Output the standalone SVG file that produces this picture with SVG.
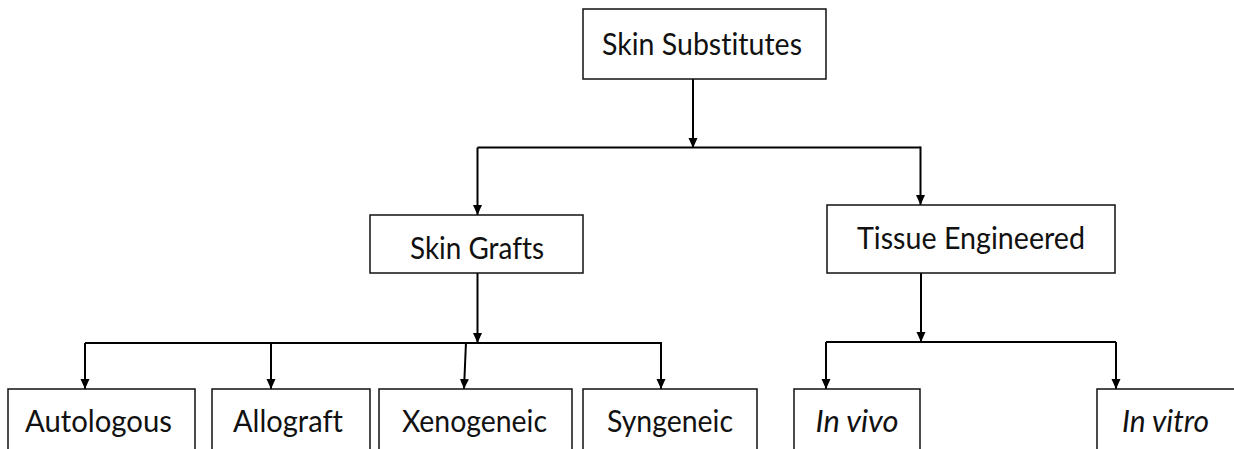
<svg xmlns="http://www.w3.org/2000/svg" width="1234" height="449" viewBox="0 0 1234 449">
<style>
.box{fill:#fff;stroke:#111;stroke-width:1.5}
.lbl{font-family:Lato,"Liberation Sans",sans-serif;font-size:31px;fill:#111;text-anchor:middle;font-variant-ligatures:none;font-feature-settings:"liga" 0}
.it{font-style:italic}
.c{fill:none;stroke:#000;stroke-width:2}
</style>
<defs>
<marker id="ah" markerUnits="userSpaceOnUse" markerWidth="10" markerHeight="12" refX="10" refY="5" orient="auto" viewBox="0 0 10 10">
<path d="M0,0.5 L10,5 L0,9.5 Z" fill="#000"/>
</marker>
</defs>
<rect width="1234" height="449" fill="#fff"/>
<g id="connectors">
<path class="c" d="M693,79 V148" marker-end="url(#ah)"/>
<path class="c" d="M477.5,147.5 H920.5"/>
<path class="c" d="M477.5,147.5 V215" marker-end="url(#ah)"/>
<path class="c" d="M920.5,146.5 V205" marker-end="url(#ah)"/>
<path class="c" d="M477.5,273 V343" marker-end="url(#ah)"/>
<path class="c" d="M85,343 H661"/>
<path class="c" d="M85,343 V389" marker-end="url(#ah)"/>
<path class="c" d="M271,342 V389" marker-end="url(#ah)"/>
<path class="c" d="M466,342 L464,389" marker-end="url(#ah)"/>
<path class="c" d="M661,342 V389" marker-end="url(#ah)"/>
<path class="c" d="M921,273 V342" marker-end="url(#ah)"/>
<path class="c" d="M826,342 H1116"/>
<path class="c" d="M826,342 V389" marker-end="url(#ah)"/>
<path class="c" d="M1116,342 V389" marker-end="url(#ah)"/>
</g>
<g id="skin-substitutes">
<rect class="box" x="583" y="9" width="243" height="70"/>
<text class="lbl" x="702" y="55" textLength="200" lengthAdjust="spacingAndGlyphs">Skin Substitutes</text>
</g>
<g id="skin-grafts">
<rect class="box" x="370" y="215" width="213" height="58"/>
<text class="lbl" x="477" y="259" textLength="134" lengthAdjust="spacingAndGlyphs">Skin Grafts</text>
</g>
<g id="tissue-engineered">
<rect class="box" x="827" y="205" width="288" height="68"/>
<text class="lbl" x="971" y="249" textLength="228" lengthAdjust="spacingAndGlyphs">Tissue Engineered</text>
</g>
<g id="autologous">
<rect class="box" x="8" y="389" width="187" height="80"/>
<text class="lbl" x="98.5" y="432" textLength="147" lengthAdjust="spacingAndGlyphs">Autologous</text>
</g>
<g id="allograft">
<rect class="box" x="212" y="389" width="158" height="80"/>
<text class="lbl" x="288" y="432" textLength="110" lengthAdjust="spacingAndGlyphs">Allograft</text>
</g>
<g id="xenogeneic">
<rect class="box" x="379" y="389" width="193" height="80"/>
<text class="lbl" x="474.5" y="432" textLength="145" lengthAdjust="spacingAndGlyphs">Xenogeneic</text>
</g>
<g id="syngeneic">
<rect class="box" x="583" y="389" width="174" height="80"/>
<text class="lbl" x="670" y="432" textLength="126" lengthAdjust="spacingAndGlyphs">Syngeneic</text>
</g>
<g id="in-vivo">
<rect class="box" x="794" y="389" width="126" height="80"/>
<text class="lbl it" x="857" y="432" textLength="83" lengthAdjust="spacingAndGlyphs">In vivo</text>
</g>
<g id="in-vitro">
<rect class="box" x="1097" y="389" width="150" height="80"/>
<text class="lbl it" x="1165.5" y="432" textLength="87" lengthAdjust="spacingAndGlyphs">In vitro</text>
</g>
</svg>
